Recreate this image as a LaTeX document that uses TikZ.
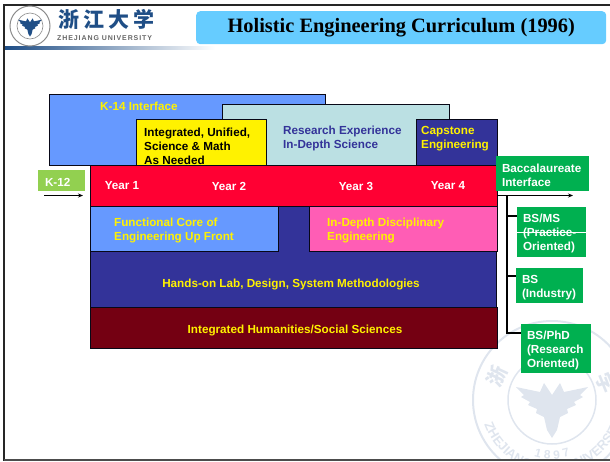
\documentclass[tikz,border=0pt]{standalone}
\usepackage{fontspec}
\setmainfont{Liberation Sans}
\newfontfamily\titlefont{Liberation Serif}
\newfontfamily\crestfont[LetterSpace=13]{Liberation Sans}
\newfontfamily\cjk[LetterSpace=20]{Noto Sans CJK SC}
\newfontfamily\cjkmark{Noto Sans CJK SC}
\usetikzlibrary{arrows.meta,decorations.text}

\definecolor{sky}{HTML}{66CCFF}
\definecolor{lightblue}{HTML}{6699FF}
\definecolor{paleteal}{HTML}{BBE0E3}
\definecolor{navy}{HTML}{333399}
\definecolor{hotred}{HTML}{FF0033}
\definecolor{hotpink}{HTML}{FF5DB5}
\definecolor{maroon}{HTML}{740012}
\definecolor{leaf}{HTML}{92D050}
\definecolor{exitgreen}{HTML}{00B050}
\definecolor{seal}{HTML}{DFE5EE}
\definecolor{ink}{HTML}{1F4E86}

\newcommand{\eagleshape}{(0,-5) -- (-8,-17) -- (-12,-8) -- (-36,-13) -- (-28,-5) -- (-31,-3) -- (-22,2)
  -- (-24,5) -- (-15,9) -- (-16,13) -- (-8,17) -- (-5,30) -- (0,38) -- (5,30) -- (8,17) -- (16,13)
  -- (15,9) -- (24,5) -- (22,2) -- (31,-3) -- (28,-5) -- (36,-13) -- (12,-8) -- (8,-17) -- cycle}

\tikzset{
  block/.style={draw=black!85!navy,line width=.9pt,anchor=north west,inner sep=0pt,outer sep=0pt},
  caption/.style={anchor=west,inner sep=0pt,align=left,font=\bfseries\fontsize{11.7}{14}\selectfont},
  exitbox/.style={anchor=north west,fill=exitgreen,text=white,inner sep=0pt,inner xsep=6pt,outer sep=0pt,
    align=left,font=\bfseries\fontsize{11.7}{14}\selectfont,execute at begin node=\rule{0pt}{12pt}},
  wire/.style={draw=black,line width=1.5pt},
  flow/.style={draw=black,line width=1pt,-{Stealth[length=5pt,width=4pt]}},
  sealtext/.style={decoration={text along path,#1},postaction={decorate}}
}

\begin{document}
\begin{tikzpicture}[x=1pt,y=-1pt]
  \useasboundingbox (0,0) rectangle (610,461);

  % watermark
  \begin{scope}
    \clip (0,0) rectangle (610,459);
    \draw[seal,line width=2pt] (552,400) circle (79pt);
    \draw[seal,line width=1.5pt] (552,400) circle (44pt);
    \fill[seal,shift={(552,400)}] \eagleshape;
    \node[seal,rotate=65,font=\cjkmark\bfseries\fontsize{20}{20}\selectfont] (markzhe) at (497,376) {浙};
    \node[seal,rotate=-68,font=\cjkmark\bfseries\fontsize{20}{20}\selectfont] (markxue) at (606,383) {学};
    \path[sealtext={text={|\bfseries\fontsize{13}{13}\selectfont\color{seal}|ZHEJIANG}}]
      (484.3,424.6) arc[start angle=200,end angle=262,radius=72pt];
    \path[sealtext={text align=center,text={|\bfseries\fontsize{12}{12}\selectfont\color{seal}|1 8 9 7}}]
      (527.1,453.5) arc[start angle=245,end angle=295,radius=59pt];
    \path[sealtext={text align=right,text={|\bfseries\fontsize{13}{13}\selectfont\color{seal}|UNIVERSITY}}]
      (564.5,470.9) arc[start angle=280,end angle=345,radius=72pt];
  \end{scope}

  % frame and header
  \draw[black!85,line width=2.5pt] (610,5) -- (4,5) -- (4,461);
  \draw[black!70,line width=1.2pt] (4,460) -- (610,460);
  \shade[left color=ink,right color=white] (5,46) rectangle (215,49);
  \draw[black!45,line width=1pt,fill=white] (30,26) circle (20pt);
  \draw[black!45,line width=.6pt] (30,26) circle (13pt);
  \fill[ink,shift={(30,24)},scale=.33] \eagleshape;
  \node[anchor=west,inner sep=0pt,text=ink,font=\cjk\bfseries\fontsize{21}{21}\selectfont] (crest) at (58,19) {浙江大学};
  \node[anchor=west,inner sep=0pt,text=black!60,font=\crestfont\bfseries\fontsize{7}{8}\selectfont] (crestname) at (57,38.5) {ZHEJIANG UNIVERSITY};
  \node[anchor=north west,fill=sky,rounded corners=4pt,minimum width=410pt,minimum height=33pt,inner sep=0pt,
    font=\titlefont\bfseries\fontsize{20.4}{22}\selectfont] (title) at (196,11) {Holistic Engineering Curriculum (1996)};

  % blocks
  \node[block,fill=lightblue,minimum width=276pt,minimum height=71pt] (k14) at (49,94) {};
  \node[block,fill=paleteal,minimum width=227pt,minimum height=61pt] (research) at (222,104) {};
  \node[block,fill=yellow,minimum width=130pt,minimum height=46pt] (science) at (136,119) {};
  \node[block,fill=navy,minimum width=81pt,minimum height=46pt] (capstone) at (416,119) {};
  \node[block,fill=navy,minimum width=406pt,minimum height=101pt] (handson) at (90,206) {};
  \node[block,fill=hotred,minimum width=407pt,minimum height=41pt] (years) at (90,165) {};
  \node[block,fill=lightblue,minimum width=188pt,minimum height=45pt] (core) at (90,206) {};
  \node[block,fill=hotpink,minimum width=188pt,minimum height=45pt] (depth) at (309,206) {};
  \node[block,fill=maroon,minimum width=407pt,minimum height=41pt] (humanities) at (90,307.5) {};

  % block texts
  \node[caption,text=yellow] (k14text) at (100,106) {K-14 Interface};
  \node[caption] (sciencetext) at (144,146) {Integrated, Unified,\\Science \& Math\\As Needed};
  \node[caption,text=navy] (researchtext) at (283,138.5) {Research Experience\\In-Depth Science};
  \node[caption,text=yellow] (capstonetext) at (421,138.5) {Capstone\\Engineering};
  \node[caption,text=white,anchor=center] (year1) at (122,186) {Year 1};
  \node[caption,text=white,anchor=center] (year2) at (229,186) {Year 2};
  \node[caption,text=white,anchor=center] (year3) at (356,186) {Year 3};
  \node[caption,text=white,anchor=center] (year4) at (448,186) {Year 4};
  \node[caption,text=yellow] (coretext) at (114,230) {Functional Core of\\Engineering Up Front};
  \node[caption,text=yellow] (depthtext) at (327,230) {In-Depth Disciplinary\\Engineering};
  \node[caption,text=yellow,anchor=center] (handsontext) at (291,284) {Hands-on Lab, Design, System Methodologies};
  \node[caption,text=yellow,anchor=center] (humanitiestext) at (295,330) {Integrated Humanities/Social Sciences};

  % entry and exit
  \node[exitbox,fill=leaf,inner xsep=7pt,minimum width=47pt,minimum height=21pt,text width=33pt] (k12) at (38,170) {K-12};
  \node[exitbox,minimum width=93pt,minimum height=35pt,text width=81pt] (interface) at (496,156) {Baccalaureate\\Interface};
  \node[exitbox,minimum width=69pt,minimum height=50pt,text width=57pt] (bsms) at (517,207) {BS/MS\\(Practice-\\Oriented)};
  \node[exitbox,minimum width=67pt,minimum height=35pt,text width=55pt] (bs) at (516,268) {BS\\(Industry)};
  \node[exitbox,minimum width=70pt,minimum height=49pt,text width=58pt] (bsphd) at (521,324) {BS/PhD\\(Research\\Oriented)};

  \coordinate (k12in) at (44,195.5);
  \coordinate (k12out) at (83,195.5);
  \coordinate (gradout) at (573,195.5);
  \coordinate (spinetop) at (507,196);
  \coordinate (tickms) at (507,216);
  \coordinate (tickbs) at (507,276);
  \coordinate (tickphd) at (507,333);

  \draw[flow] (k12in) -- (k12out);
  \draw[flow] (years.east |- gradout) -- (gradout);
  \draw[wire] (spinetop) -- (tickphd) -- (tickphd -| bsphd.west);
  \draw[wire] (tickms) -- (tickms -| bsms.west);
  \draw[wire] (tickbs) -- (tickbs -| bs.west);
  \draw[white,line width=.7pt] (bsms.west) -- (bsms.east);
\end{tikzpicture}
\end{document}
